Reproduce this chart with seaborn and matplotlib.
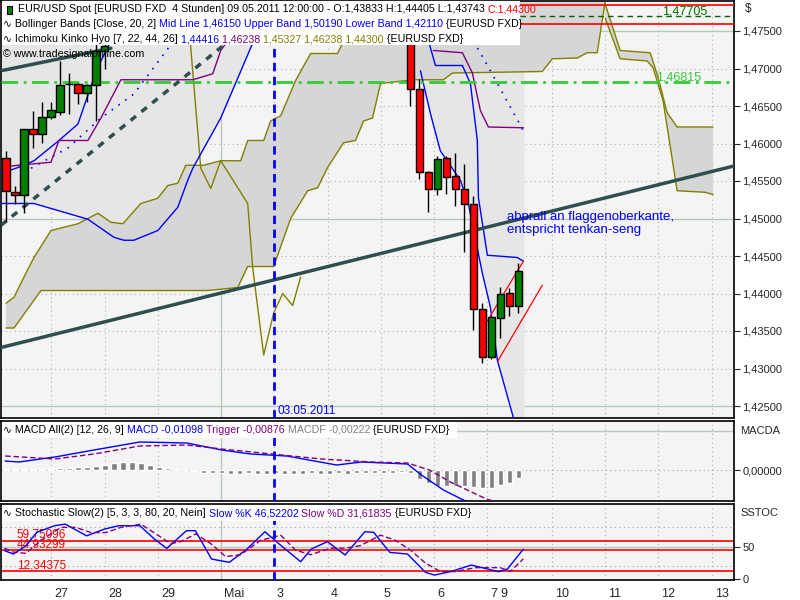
import numpy as np
import pandas as pd
import seaborn as sns
import matplotlib
matplotlib.use("Agg")
import matplotlib.pyplot as plt
import matplotlib.transforms as mt
from matplotlib.patches import Rectangle

sns.set_style("white")
plt.rcParams['font.family'] = ['Liberation Sans', 'DejaVu Sans']

# ---------------- data (x in 4h-bar units) ----------------
left_x = [0, 1, 2, 3, 4, 5, 6, 7, 8, 9, 10, 11]
left_o = [1.4581, 1.4536, 1.4531, 1.4620, 1.4613, 1.4636, 1.4642, 1.4680, 1.4680, 1.4668, 1.4678, 1.4723]
left_h = [1.4590, 1.4543, 1.4620, 1.4644, 1.4656, 1.4656, 1.4710, 1.4694, 1.4681, 1.4680, 1.4737, 1.4742]
left_l = [1.4495, 1.4519, 1.4508, 1.4594, 1.4601, 1.4633, 1.4638, 1.4640, 1.4653, 1.4655, 1.4630, 1.4700]
left_c = [1.4537, 1.4531, 1.4620, 1.4613, 1.4636, 1.4645, 1.4678, 1.4679, 1.4668, 1.4678, 1.4723, 1.4730]
right_x = [45, 46, 47, 48, 49, 50, 51, 52, 53, 54, 55, 56, 57]
right_o = [1.4737, 1.4673, 1.4562, 1.4540, 1.4581, 1.4556, 1.4539, 1.4520, 1.4380, 1.4316, 1.4368, 1.4400, 1.43833]
right_h = [1.4745, 1.4686, 1.4563, 1.4584, 1.4584, 1.4588, 1.4573, 1.4530, 1.4388, 1.4368, 1.4409, 1.4407, 1.44405]
right_l = [1.4650, 1.4553, 1.4509, 1.4531, 1.4533, 1.4517, 1.4455, 1.4351, 1.4308, 1.4313, 1.4341, 1.4370, 1.43743]
right_c = [1.4673, 1.4562, 1.4540, 1.4580, 1.4556, 1.4539, 1.4519, 1.4379, 1.4316, 1.4368, 1.4400, 1.4383, 1.44300]

kijun_lx = [-0.56, 1.33, 5, 5.89, 9.11, 10.56, 12.78, 20.78, 23, 23.89, 24.67]
kijun_lp = [1.4568, 1.4571, 1.4575, 1.4604, 1.4604, 1.4634, 1.4685, 1.4685, 1.4693, 1.4724, 1.4737]
kijun_rx = [47.56, 50.78, 51.89, 52.78, 53.67, 57.56]
kijun_rp = [1.4724, 1.4721, 1.4694, 1.4644, 1.4622, 1.4621]
tenkan_lx = [-0.56, 1.33, 3.11, 5.89, 8, 9.67, 10.56, 11.67]
tenkan_lp = [1.4560, 1.4568, 1.4577, 1.4604, 1.4626, 1.4684, 1.4710, 1.4737]
tenkan_rx = [47, 47.78, 50.78, 51.67, 52.44, 52.56, 53.56, 56.89, 57.56]
tenkan_rp = [1.4737, 1.4704, 1.4704, 1.4680, 1.4604, 1.4528, 1.4451, 1.4448, 1.4443]
lower_lx = [-0.56, 3.11, 9.11, 12, 13.11, 14.22, 16.89, 19.11, 20.22, 20.78, 23.89, 27.56]
lower_lp = [1.4520, 1.4520, 1.4499, 1.4475, 1.4471, 1.4471, 1.4484, 1.4515, 1.4551, 1.4567, 1.4634, 1.4737]
lower_rx = [46.11, 47.22, 48.33, 50.56, 51.44, 53, 53.89, 54.67, 56.44]
lower_rp = [1.4697, 1.4640, 1.4590, 1.4551, 1.4520, 1.4427, 1.4382, 1.4311, 1.4235]
upper_lx = [2.78, 6.89, 10.56, 14.22, 18.67]
upper_lp = [1.4567, 1.4594, 1.4634, 1.4666, 1.4737]
upper_rx = [52, 53.89, 57.56]
upper_rp = [1.4737, 1.4697, 1.4617]

spanA_x = [0, 0.89, 2, 3.11, 5, 8, 10.22, 11.67, 13, 15, 16.89, 18, 19.11, 20, 22, 23.89, 26.11, 26.89,
           28.67, 29.44, 30.56, 32.22, 33.89, 36.89, 37.56, 38.5, 66.5]
spanA_p = [1.4387, 1.4395, 1.4422, 1.4448, 1.4484, 1.4493, 1.4507, 1.4495, 1.4493, 1.4520, 1.4527, 1.4544,
           1.4547, 1.4571, 1.4571, 1.4577, 1.4577, 1.4604, 1.4604, 1.4630, 1.4637, 1.4684, 1.4720, 1.4720,
           1.4737, 1.4830, 1.4830]
spanB_x = [0, 0.89, 3.89, 22.44, 25.78, 26.89, 29.78, 31.67, 33.56, 34.67, 35.78, 37.56, 38.89, 39.78, 40.78,
           41.67, 45.33, 48.67, 49.67, 59.67, 60.78, 63.56, 64.67, 65.78, 66.67]
spanB_p = [1.4354, 1.4354, 1.4404, 1.4404, 1.4408, 1.4436, 1.4436, 1.4500, 1.4537, 1.4541, 1.4568, 1.4601,
           1.4604, 1.4630, 1.4634, 1.4680, 1.4685, 1.4685, 1.4694, 1.4696, 1.4713, 1.4714, 1.4721, 1.4721, 1.4790]
futA_x = [66.67, 68.33, 71.67, 72.56, 73.56, 74.67, 78.67]
futA_p = [1.4786, 1.4724, 1.4721, 1.4688, 1.4641, 1.4622, 1.4622]
futB_x = [66.67, 68.33, 71.33, 72, 73.11, 74.67, 77.78, 78.67]
futB_p = [1.4767, 1.4713, 1.4710, 1.4701, 1.4657, 1.4537, 1.4535, 1.4532]
chikou_x = [20.33, 20.56, 21.67, 22.78, 23.89, 26.89, 27.44, 28.67, 29.78, 30.78, 31.89, 32.78]
chikou_p = [1.4757, 1.4727, 1.4567, 1.4540, 1.4577, 1.4520, 1.4435, 1.4318, 1.4374, 1.4400, 1.4384, 1.4422]

trend1_x, trend1_p = [-0.56, 81], [1.4328, 1.4570]
trend2_x, trend2_p = [-0.56, 11.67], [1.4697, 1.4727]
trend3_x, trend3_p = [-0.56, 24.11], [1.4491, 1.4730]
chan1_x, chan1_p = [52.67, 57.56], [1.4346, 1.4443]
chan2_x, chan2_p = [54.67, 59.67], [1.4309, 1.4411]
level_green = 1.46815
level_dkgreen = 1.47705
level_red1 = 1.47589
level_red2 = 1.4785
marker_date_x = 29.78

macd_x = [-0.1, 1.44, 5.44, 9.78, 14.89, 20.11, 24, 27.22, 31.22, 36.78, 39.56, 44.67, 46.22, 48.67, 52.22, 56.5]
macd_v = [0.0027, 0.0024, 0.0039, 0.0060, 0.0084, 0.0081, 0.0060, 0.0048, 0.0042, 0.0015, 0.0024, 0.0018,
          -0.0015, -0.0060, -0.0108, -0.0125]
trig_x = [-0.1, 5.44, 9.78, 14.89, 20.11, 24, 29.56, 35.11, 40.67, 44.67, 47.11, 49.44, 53.44, 56.22]
trig_v = [0.0042, 0.0033, 0.0048, 0.0072, 0.0075, 0.0063, 0.0048, 0.0033, 0.0024, 0.0021, 0.0, -0.0036,
          -0.0087, -0.0108]
hist_v = [0.0002, 0.0002, 0.0002, 0.0003, 0.0003, 0.0004, 0.0005, 0.0006, 0.0008, 0.0010, 0.0012, 0.0016,
          0.0022, 0.0024, 0.0024, 0.0020, 0.0016, 0.0010, 0.0005, 0.0003, 0.0001, -0.0002, -0.0008, -0.0010,
          -0.0010, -0.0012, -0.0011, -0.0010, -0.0012, -0.0011, -0.0010, -0.0012, -0.0011, -0.0012, -0.0010,
          -0.0011, -0.0012, -0.0010, -0.0011, -0.0009, -0.0008, -0.0008, -0.0009, -0.0008, -0.0007, -0.0010,
          -0.0028, -0.0040, -0.0048, -0.0048, -0.0048, -0.0048, -0.0050, -0.0055, -0.0055, -0.0045, -0.0040,
          -0.0025]

stk_x = [-0.16, 0.83, 2.22, 3.41, 5.4, 6.59, 8.97, 10.96, 12.54, 14.89, 16.51, 17.89, 20.08, 21.07, 22.86,
         24.84, 26.82, 28.81, 30.4, 32.78, 33.97, 35.76, 37.73, 39.92, 40.91, 42.7, 44.67, 46.67, 47.67, 49.44,
         51.78, 54.78, 55.78, 57.56]
stk_v = [44.1, 39, 51.7, 72.3, 82.6, 85, 67, 77.4, 82.6, 82.6, 62, 47.7, 74.9, 74.9, 31.3, 26.2, 46.8, 73.3,
         54.3, 27.2, 46.8, 58, 37.5, 73.3, 72.3, 41.5, 39, 10.8, 6.6, 11.8, 22, 11.8, 15.8, 46.5]
std_x = [-0.16, 0.78, 2.22, 3.89, 6.11, 7.78, 9.44, 11.11, 12.78, 15, 16.67, 18.33, 19.44, 21.11, 22.78, 24.44,
         26.11, 28.33, 30.56, 32.22, 33.89, 36.11, 37.78, 39.44, 41.67, 43.33, 45, 46.67, 48.33, 50, 52.22,
         55, 56.11, 57.56]
std_v = [48, 42, 40, 60, 80, 80, 72, 72, 80, 85, 70, 55, 58, 70, 55, 35, 38, 60, 68, 45, 38, 48, 48, 52, 68, 60,
         45, 25, 12, 12, 18, 18, 12, 31.6]
stoch_levels = [59.75096, 44.93299, 12.34375]

day_ticks = [5, 11, 16.89, 23.89, 29.78, 35.78, 41.67, 47.67, 53.56, 54.67, 60.78, 66.67, 72.56, 78.56]
day_labels = ['27', '28', '29', 'Mai', '3', '4', '5', '6', '7', '9', '10', '11', '12', '13']
price_ticks = [1.425, 1.430, 1.435, 1.440, 1.445, 1.450, 1.455, 1.460, 1.465, 1.470, 1.475]

# ---------------- figure ----------------
W, H = 800, 600
fig = plt.figure(figsize=(8, 6), dpi=100, facecolor='white')
BG = '#f4f4f4'
XL = (-0.56, 81)

def pos(l, t, r, b):
    return [l / W, 1 - b / H, (r - l) / W, (b - t) / H]

ax = fig.add_axes(pos(1, 1, 734, 418))
axm = fig.add_axes(pos(1, 421, 734, 501))
axs = fig.add_axes(pos(1, 504, 734, 580))
for a in (ax, axm, axs):
    a.set_facecolor(BG)
    a.set_xlim(*XL)
    for s in a.spines.values():
        s.set_color('black'); s.set_linewidth(1.2)
    a.yaxis.tick_right()
    a.tick_params(axis='y', labelsize=8, length=4, pad=2, direction='out')
    for i, t in enumerate(day_ticks):
        if day_labels[i] == 'Mai':
            a.axvline(t, color='#b8c8b8', lw=1, zorder=0.5)
        elif day_labels[i] != '9':
            a.axvline(t, color='#b0b0b0', lw=0.8, ls=(0, (1, 3)), zorder=0.5)
    a.axvline(marker_date_x, color='blue', lw=2, ls=(0, (3, 2)), zorder=6)

# ----- main panel -----
ax.set_ylim(1.4234, 1.4790)
for p in price_ticks:
    if abs(p - 1.45) < 1e-6 or abs(p - 1.425) < 1e-6 or abs(p - 1.475) < 1e-6:
        ax.axhline(p, color='#b8c8b8', lw=1, zorder=0.5)
    else:
        ax.axhline(p, color='#b0b0b0', lw=0.8, ls=(0, (1, 3)), zorder=0.5)
ax.set_yticks(price_ticks)
ax.set_yticklabels([f"{p:.5f}".replace('.', ',') for p in price_ticks])
ax.set_xticks([])

top = 1.4830
ax.fill(list(lower_lx) + [lower_lx[-1], lower_lx[0]], list(lower_lp) + [top, top], color='#e6e6e6', zorder=1, lw=0)
ax.fill([45.3] + list(lower_rx) + [57.7, 57.7, 45.3], [1.4697] + list(lower_rp) + [1.42, top, top],
        color='#e6e6e6', zorder=1, lw=0)
ax.fill(spanA_x + spanB_x[::-1], spanA_p + spanB_p[::-1], color='#d6d6d6', zorder=1.2, lw=0)
ax.fill(futA_x + futB_x[::-1], futA_p + futB_p[::-1], color='#d6d6d6', zorder=1.2, lw=0)
olive = '#808000'
for xs, ps in ((spanA_x, spanA_p), (spanB_x, spanB_p), (futA_x, futA_p), (futB_x, futB_p), (chikou_x, chikou_p)):
    sns.lineplot(x=xs, y=ps, ax=ax, color=olive, lw=1, sort=False, estimator=None, zorder=2)

for xs, ps in ((tenkan_lx, tenkan_lp), (tenkan_rx, tenkan_rp), (lower_lx, lower_lp), (lower_rx, lower_rp)):
    ax.plot(xs, ps, color='blue', lw=1, zorder=3)
for xs, ps in ((upper_lx, upper_lp), (upper_rx, upper_rp)):
    ax.plot(xs, ps, color='blue', lw=1.2, ls=(0, (1, 4)), zorder=3)
for xs, ps in ((kijun_lx, kijun_lp), (kijun_rx, kijun_rp)):
    ax.plot(xs, ps, color='#800080', lw=1, zorder=3)

ax.axhline(level_green, color='#33cc33', lw=2, ls=(0, (6, 2, 1, 2)), zorder=3)
ax.plot([57.2, 81], [level_dkgreen] * 2, color='#006400', lw=1, ls=(0, (4, 3)), zorder=3)
ax.plot([57.2, 81], [level_red1] * 2, color='red', lw=1.2, zorder=3)
ax.axhline(level_red2, color='red', lw=1.2, zorder=3)
ax.text(75.5, level_dkgreen + 0.0006, "1,47705", color='#007000', fontsize=9, ha='center', va='center', zorder=7)
ax.text(74.8, level_green + 0.0007, "1,46815", color='#33cc33', fontsize=9, ha='center', va='center', zorder=7)

ax.plot(trend1_x, trend1_p, color='#2f4f4f', lw=2.5, zorder=4)
ax.plot(trend2_x, trend2_p, color='#2f4f4f', lw=2.5, zorder=4)
ax.plot(trend3_x, trend3_p, color='#2f4f4f', lw=2.5, ls=(0, (2, 2)), zorder=4)
ax.plot(chan1_x, chan1_p, color='red', lw=0.9, zorder=4)
ax.plot(chan2_x, chan2_p, color='red', lw=0.9, zorder=4)

def candles(xs, o, h, l, c):
    for x, oo, hh, ll, cc in zip(xs, o, h, l, c):
        ax.vlines(x, ll, hh, color='black', lw=1, zorder=5)
        col = '#008000' if cc >= oo else '#ff0000'
        b0, b1 = min(oo, cc), max(oo, cc)
        ax.add_patch(Rectangle((x - 0.4, b0), 0.8, max(b1 - b0, 0.00006), facecolor=col,
                               edgecolor='black', lw=1, zorder=5.5))
candles(left_x, left_o, left_h, left_l, left_c)
candles(right_x, right_o, right_h, right_l, right_c)

ax.text(55.7, 1.4510, "abprall an flaggenoberkante,\nentspricht tenkan-seng", color='blue', fontsize=9.5,
        ha='left', va='top', zorder=7, linespacing=1.1)
ax.text(marker_date_x + 0.4, 1.4236, "03.05.2011", color='blue', fontsize=8.5, ha='left', va='bottom', zorder=7)
fig.text(745 / W, 1 - 9 / H, "$", fontsize=8.5, va='center')

# ----- multicolour legends -----
renderer = fig.canvas.get_renderer()
def ctext(xpx, ypx, pieces, size=7.7):
    x = xpx
    for s, col in pieces:
        t = fig.text(x / W, 1 - ypx / H, s, color=col, fontsize=size, va='center', ha='left', zorder=10)
        x += t.get_window_extent(renderer).width
    return x

fig.patches.append(Rectangle((2 / W, 1 - 45 / H), 518 / W, 44 / H, transform=fig.transFigure,
                             facecolor='white', edgecolor='none', zorder=9))
fig.patches.append(Rectangle((7 / W, 1 - 14 / H), 5 / W, 8 / H, transform=fig.transFigure,
                             facecolor='#008000', edgecolor='black', lw=0.8, zorder=11))
ctext(18, 9, [("EUR/USD Spot [EURUSD FXD  4 Stunden] 09.05.2011 12:00:00 - O:1,43833 H:1,44405 L:1,43743 ", 'black'),
              ("C:1,44300", 'red')])
ctext(3, 24, [("∿ Bollinger Bands [Close, 20, 2] ", 'black'),
              ("Mid Line 1,46150 Upper Band 1,50190 Lower Band 1,42110", 'blue'), (" {EURUSD FXD}", 'black')])
ctext(3, 39, [("∿ Ichimoku Kinko Hyo [7, 22, 44, 26] ", 'black'), ("1,44416 ", 'blue'), ("1,46238 ", '#800080'),
              ("1,45327 1,46238 1,44300", olive), (" {EURUSD FXD}", 'black')])
ctext(3, 54, [("© www.tradesignalonline.com", 'black')])

# ----- MACD -----
axm.set_ylim(-0.0093, 0.0147)
axm.axhline(0, color='#a0a0a0', lw=0.8, ls=(0, (1, 3)), zorder=0.5)
axm.axhline(0.0117, color='#b8c8b8', lw=1, zorder=0.5)
axm.bar(np.arange(len(hist_v)), hist_v, width=0.6, color='#808080', zorder=2)
sns.lineplot(x=macd_x, y=macd_v, ax=axm, color='blue', lw=1, estimator=None, sort=False, zorder=3)
sns.lineplot(x=trig_x, y=trig_v, ax=axm, color='#800080', lw=1, estimator=None, sort=False, zorder=3)
axm.lines[-1].set_linestyle((0, (4, 2)))
axm.set_yticks([0]); axm.set_yticklabels(["0,00000"]); axm.set_xticks([])
fig.text(740 / W, 1 - 431 / H, "MACDA", fontsize=8, va='center')
fig.patches.append(Rectangle((2 / W, 1 - 438 / H), 455 / W, 16 / H, transform=fig.transFigure,
                             facecolor='white', edgecolor='none', zorder=9))
ctext(3, 430, [("∿ MACD All(2) [12, 26, 9] ", 'black'), ("MACD -0,01098 ", 'blue'),
               ("Trigger -0,00876 ", '#800080'), ("MACDF -0,00222", '#808080'), (" {EURUSD FXD}", 'black')])

# ----- Stochastic -----
axs.set_ylim(-1, 116)
axs.axhline(50, color='#b8c8b8', lw=1, zorder=0.5)
for v in (80, 20):
    axs.axhline(v, color='#a0a0a0', lw=0.8, ls=(0, (1, 3)), zorder=0.5)
for v in stoch_levels:
    axs.axhline(v, color='red', lw=1.2, zorder=2)
for v, lbl in zip(stoch_levels, ["59,75096", "44,93299", "12,34375"]):
    axs.text(1.2, v + 9, lbl, color='red', fontsize=8.5, va='center', zorder=3)
sns.lineplot(x=stk_x, y=stk_v, ax=axs, color='blue', lw=1, estimator=None, sort=False, zorder=3)
sns.lineplot(x=std_x, y=std_v, ax=axs, color='#800080', lw=1, estimator=None, sort=False, zorder=3)
axs.lines[-1].set_linestyle((0, (4, 2)))
axs.set_yticks([50, 0]); axs.set_yticklabels(["50", "0"])
fig.text(740 / W, 1 - 513 / H, "SSTOC", fontsize=8, va='center')
fig.patches.append(Rectangle((2 / W, 1 - 521 / H), 470 / W, 16 / H, transform=fig.transFigure,
                             facecolor='white', edgecolor='none', zorder=9))
ctext(3, 513, [("∿ Stochastic Slow(2) [5, 3, 3, 80, 20, Nein] ", 'black'), ("Slow %K 46,52202 ", 'blue'),
               ("Slow %D 31,61835", '#800080'), (" {EURUSD FXD}", 'black')])
axs.set_xticks(day_ticks)
axs.set_xticklabels(day_labels, ha='left', fontsize=9)
axs.tick_params(axis='x', length=5, direction='out', pad=1)
off = mt.ScaledTranslation(3 / 100, 0, fig.dpi_scale_trans)
for lab in axs.get_xticklabels():
    lab.set_transform(lab.get_transform() + off)
for a in (ax, axm, axs):
    a.set_xlabel(''); a.set_ylabel('')

fig.savefig("out.png", dpi=100, facecolor='white')
